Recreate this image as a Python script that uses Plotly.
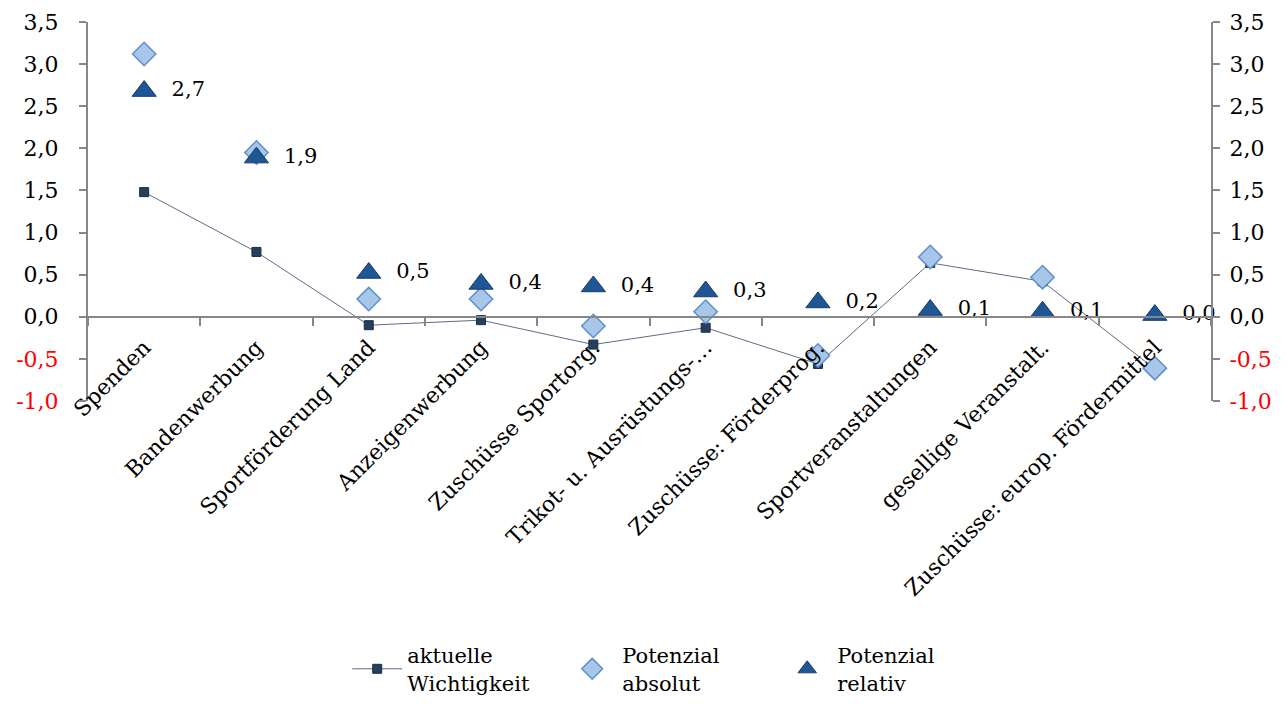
import plotly.graph_objects as go

# Categories (funding sources)
categories = [
    "Spenden",
    "Bandenwerbung",
    "Sportförderung Land",
    "Anzeigenwerbung",
    "Zuschüsse Sportorg.",
    "Trikot- u. Ausrüstungs-…",
    "Zuschüsse: Förderprog.",
    "Sportveranstaltungen",
    "gesellige Veranstalt.",
    "Zuschüsse: europ. Fördermittel",
]

# Series values
aktuelle_wichtigkeit = [1.48, 0.77, -0.10, -0.04, -0.33, -0.13, -0.56, 0.64, 0.42, -0.62]
potenzial_absolut = [3.12, 1.95, 0.21, 0.21, -0.11, 0.06, -0.46, 0.71, 0.47, -0.61]
potenzial_relativ = [2.68, 1.89, 0.52, 0.39, 0.36, 0.30, 0.17, 0.08, 0.06, 0.02]

# Value axis ticks
tick_vals = [-1.0, -0.5, 0.0, 0.5, 1.0, 1.5, 2.0, 2.5, 3.0, 3.5]
tick_text = [
    '<span style="color:#FF0000">-1,0</span>',
    '<span style="color:#FF0000">-0,5</span>',
    "0,0", "0,5", "1,0", "1,5", "2,0", "2,5", "3,0", "3,5",
]

FONT = "DejaVu Serif"
AXIS_GREY = "#878787"
Y_MIN, Y_MAX = -1.0, 3.5

fig = go.Figure()

fig.add_trace(go.Scatter(
    x=categories, y=aktuelle_wichtigkeit,
    name="aktuelle<br>Wichtigkeit",
    mode="lines+markers",
    line=dict(color="#5C6D84", width=1),
    marker=dict(symbol="square", size=9, color="#263F5C",
                line=dict(color="#1B2E44", width=1)),
    cliponaxis=False,
))

fig.add_trace(go.Scatter(
    x=categories, y=potenzial_absolut,
    name="Potenzial<br>absolut",
    mode="markers",
    marker=dict(symbol="diamond", size=18, color="#A7C6E8",
                line=dict(color="#5E8FCB", width=1.5)),
    cliponaxis=False,
))

fig.add_trace(go.Scatter(
    x=categories, y=potenzial_relativ,
    name="Potenzial<br>relativ",
    mode="markers+text",
    yaxis="y2",
    marker=dict(symbol="triangle-up", size=21, color="#1F5694",
                line=dict(color="#173C66", width=1)),
    texttemplate="  %{y:.1f}",
    textposition="middle right",
    textfont=dict(family=FONT, size=21, color="#000000"),
    cliponaxis=False,
))

yaxis_common = dict(
    range=[Y_MIN, Y_MAX],
    tickmode="array",
    tickvals=tick_vals,
    ticktext=tick_text,
    showgrid=False,
    zeroline=False,
    showline=True,
    linecolor=AXIS_GREY,
    linewidth=2,
    ticks="outside",
    ticklen=7,
    tickwidth=2,
    tickcolor=AXIS_GREY,
    tickfont=dict(family=FONT, size=22, color="#000000"),
    automargin=False,
)

fig.update_layout(
    width=1288,
    height=704,
    paper_bgcolor="white",
    plot_bgcolor="white",
    separators=",.",
    margin=dict(l=88, r=77, t=22, b=303),
    font=dict(family=FONT, size=22, color="#000000"),
    showlegend=True,
    legend=dict(
        orientation="h",
        x=0.518, xanchor="center",
        yref="container",
        y=0.098, yanchor="top",
        font=dict(family=FONT, size=21, color="#000000"),
        itemwidth=50,
        entrywidth=150,
        valign="middle",
    ),
    xaxis=dict(
        type="category",
        categoryorder="array",
        categoryarray=categories,
        range=[-0.5, len(categories) - 0.5],
        anchor="free",
        position=(0 - Y_MIN) / (Y_MAX - Y_MIN),
        showline=True,
        linecolor=AXIS_GREY,
        linewidth=2,
        ticks="outside",
        tickson="boundaries",
        ticklen=8,
        tickwidth=2,
        tickcolor=AXIS_GREY,
        tickangle=-45,
        ticklabelstandoff=8,
        tickfont=dict(family=FONT, size=22, color="#000000"),
        showgrid=False,
        zeroline=False,
        automargin=False,
    ),
    yaxis=dict(side="left", ticklabelstandoff=16, **yaxis_common),
    yaxis2=dict(side="right", overlaying="y", ticklabelstandoff=5, **yaxis_common),
)

fig.write_html("out.html")
